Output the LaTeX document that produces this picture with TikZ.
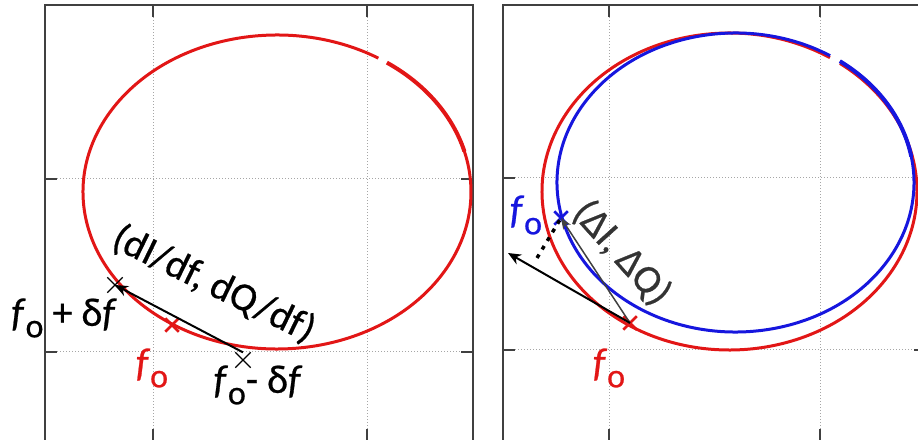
\documentclass[tikz,border=0pt]{standalone}
\usepackage{fontspec}
\setmainfont{Carlito}[FakeBold=0.6]
\usepackage{xcolor}
\usepackage{tikz}
\usetikzlibrary{arrows.meta,shapes.misc}

\definecolor{curvered}{RGB}{226,22,22}
\definecolor{curveblue}{RGB}{22,22,222}
\newcommand{\fsub}{\textit{f}\raisebox{-0.6ex}{\fontsize{34}{34}\selectfont o}}

\begin{document}
\begin{tikzpicture}[x=1pt,y=1pt,
  lbl/.style={font=\fontsize{40}{44}\selectfont,inner sep=0pt},
  frame/.style={draw=black!75,line width=2pt},
  gridln/.style={draw=black!35,dotted,line width=1pt},
  tickln/.style={draw=black!75,line width=2pt},
  redcurve/.style={draw=curvered,line width=3pt},
  bluecurve/.style={draw=curveblue,line width=3pt},
  bmark/.style={draw=black,cross out,minimum size=14pt,inner sep=0pt,line width=1.3pt},
  rmark/.style={draw=curvered,cross out,minimum size=11pt,inner sep=0pt,line width=2.5pt},
  bluemark/.style={draw=curveblue,cross out,minimum size=11pt,inner sep=0pt,line width=2.5pt},
  arr/.style={-{Stealth[length=13pt,width=11pt]},line width=2pt}]
 \clip (0,0) rectangle (918,439);
 % left panel
 \draw[gridln] (153,-5)--(153,434) (367,-5)--(367,434) (45,260)--(473,260) (45,87)--(473,87);
 \draw[frame] (45,-2) rectangle (473,434);
 \foreach \x in {153,367} {\draw[tickln] (\x,434)--++(0,-12); \draw[tickln] (\x,-2)--++(0,12);}
 \foreach \y in {260,87} {\draw[tickln] (45,\y)--++(12,0); \draw[tickln] (473,\y)--++(-12,0);}
 \coordinate (cL) at (277,247);
 \draw[redcurve] (cL) ++(58.5:194 and 157) arc[start angle=58.5,end angle=380,x radius=194,y radius=157];
 \draw[redcurve,line width=4pt] (cL) ++(15:194 and 157) arc[start angle=15,end angle=55.5,x radius=194,y radius=157];
 \node[rmark] (f0L) at (172,114) {};
 \node[bmark] (fplus) at (115,154) {};
 \node[bmark] (fminus) at (243,79) {};
 \draw[arr] (fminus.north)--(fplus.center);
 \node[lbl] (lplus) at (64,121) {\fsub\ + δ\textit{f}};
 \node[lbl,text=curvered] (lf0L) at (152,71) {\fsub};
 \node[lbl] (lminus) at (258,54) {\fsub- δ\textit{f}};
 \node[lbl,rotate=-26] (lderiv) at (214,155) {(dI/df, dQ/df)};
 % right panel
 \draw[gridln] (609,-5)--(609,434) (820,-5)--(820,434) (503,261)--(926,261) (503,89)--(926,89);
 \draw[frame] (503,-2) rectangle (926,434);
 \foreach \x in {609,820} {\draw[tickln] (\x,434)--++(0,-12); \draw[tickln] (\x,-2)--++(0,12);}
 \foreach \y in {261,89} {\draw[tickln] (503,\y)--++(12,0); \draw[tickln] (926,\y)--++(-12,0);}
 \coordinate (cR) at (729.5,247.5);
 \coordinate (cB) at (735.5,256.5);
 \draw[redcurve] (cR) ++(57.6:187.5 and 158.5) arc[start angle=57.6,end angle=413.9,x radius=187.5,y radius=158.5];
 \draw[bluecurve] (cB) ++(58:178.5 and 149.5) arc[start angle=58,end angle=414.2,x radius=178.5,y radius=149.5];
 \draw[bluecurve,line width=4pt] (cB) ++(10:178.5 and 149.5) arc[start angle=10,end angle=54.2,x radius=178.5,y radius=149.5];
 \node[rmark] (f0R) at (630,116) {};
 \node[bluemark] (f0B) at (561,221) {};
 \coordinate (tipR) at (508,186);
 \coordinate (dotA) at (537,181);
 \draw[black!75,-{Stealth[length=11pt,width=9pt]},line width=1.5pt] (f0R.center)--(f0B.center);
 \draw[arr] (f0R.center)--(tipR);
 \draw[line width=3.5pt,dash pattern=on 4pt off 6pt] (dotA)--(f0B.center);
 \node[lbl,text=curveblue] (lf0B) at (526,224) {\fsub};
 \node[lbl,text=curvered] (lf0R) at (609,71) {\fsub};
 \node[lbl,text=black!80,rotate=-48] (ldelta) at (622,186) {(ΔI, ΔQ)};
\end{tikzpicture}
\end{document}
